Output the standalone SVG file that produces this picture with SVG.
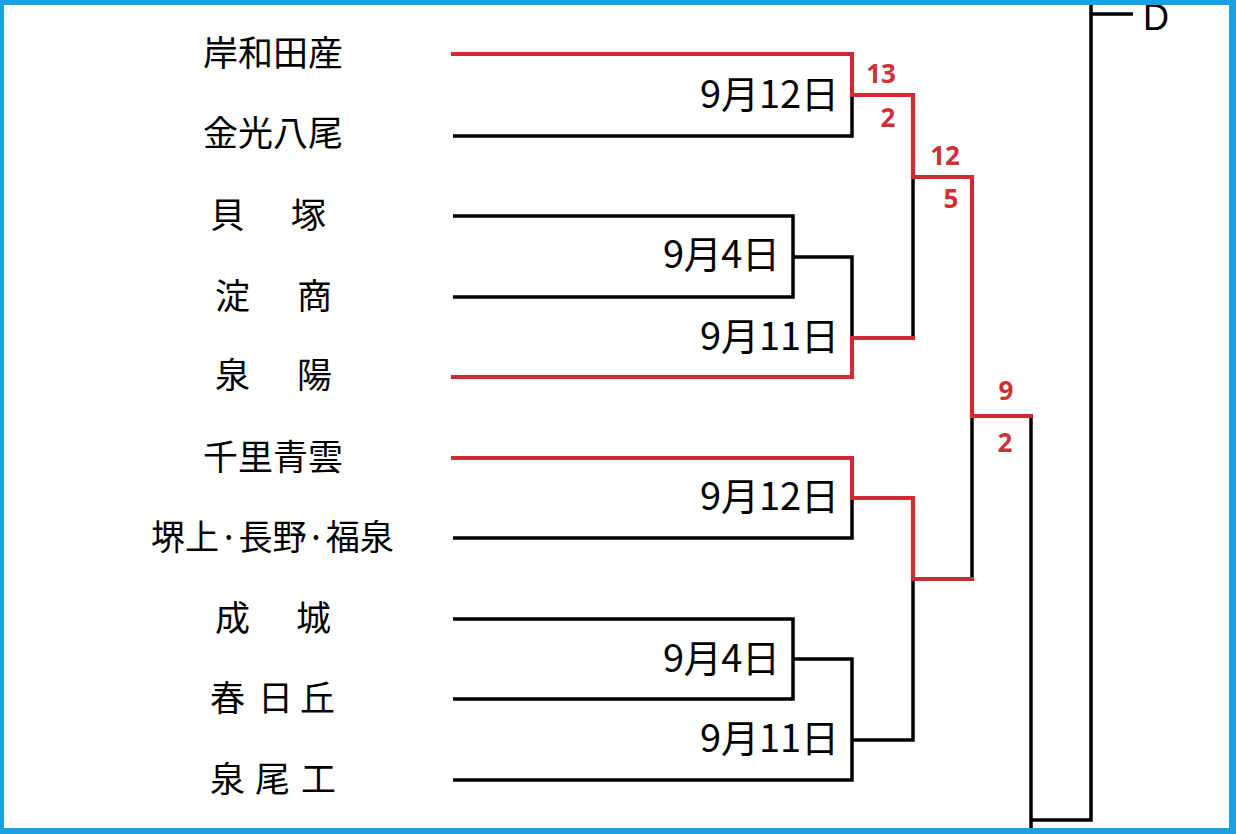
<svg xmlns="http://www.w3.org/2000/svg" width="1236" height="834" viewBox="0 0 1236 834">
<style>
.team{font-family:"Noto Sans CJK JP","Noto Sans CJK SC",sans-serif;font-size:35px;fill:#000}
.date{font-family:"Noto Sans CJK JP","Noto Sans CJK SC",sans-serif;font-size:38px;fill:#000;text-anchor:end}
.score{font-family:"Noto Sans","Liberation Sans",sans-serif;font-size:26px;font-weight:bold;fill:#cf3038;text-anchor:middle}
.bk{fill:none;stroke:#000;stroke-width:3.5}
.rd{fill:none;stroke:#d02a35;stroke-width:4.2;stroke-linecap:square}
</style>
<rect x="0" y="0" width="1236" height="834" fill="#fff"/>
<g id="connectors">
<g id="black-lines">
<path class="bk" d="M453 136 H852 V95"/>
<path class="bk" d="M453 216 H793 V297 H453"/>
<path class="bk" d="M793 257 H852 V338"/>
<path class="bk" d="M913 177 V338"/>
<path class="bk" d="M453 538 H852 V498"/>
<path class="bk" d="M453 619 H793 V699 H453"/>
<path class="bk" d="M793 659 H852 V780 H453"/>
<path class="bk" d="M852 740 H913 V579"/>
<path class="bk" d="M972 416 V579"/>
<path class="bk" d="M1031 416 V834"/>
<path class="bk" d="M1031 820 H1091 V5"/>
<path class="bk" d="M1091 14 H1133"/>
</g>
<g id="red-lines">
<path class="rd" d="M453 54 H852 V95 H913 V177 H972 V416 H1031"/>
<path class="rd" d="M453 377 H852 V338 H913"/>
<path class="rd" d="M453 458 H852 V498 H913 V579 H972"/>
</g>
</g>
<g id="team-1"><text class="team" x="203" y="66">岸和田産</text></g>
<g id="team-2"><text class="team" x="203" y="146">金光八尾</text></g>
<g id="team-3"><text class="team" x="210 250 291" y="228">貝　塚</text></g>
<g id="team-4"><text class="team" x="215 256 297" y="309">淀　商</text></g>
<g id="team-5"><text class="team" x="215 256 297" y="388">泉　陽</text></g>
<g id="team-6"><text class="team" x="203" y="470">千里青雲</text></g>
<g id="team-7"><text class="team" x="151" y="550" textLength="243" lengthAdjust="spacingAndGlyphs">堺上·長野·福泉</text></g>
<g id="team-8"><text class="team" x="215 256 296" y="631">成　城</text></g>
<g id="team-9"><text class="team" x="210 245 258 280 300" y="711">春 日 丘</text></g>
<g id="team-10"><text class="team" x="210 243 255 280 301" y="792">泉 尾 工</text></g>
<g id="dates">
<text class="date" x="839" y="108" textLength="139" lengthAdjust="spacing">9月12日</text>
<text class="date" x="780" y="268" textLength="117" lengthAdjust="spacing">9月4日</text>
<text class="date" x="839" y="350" textLength="139" lengthAdjust="spacing">9月11日</text>
<text class="date" x="839" y="510" textLength="139" lengthAdjust="spacing">9月12日</text>
<text class="date" x="780" y="672" textLength="117" lengthAdjust="spacing">9月4日</text>
<text class="date" x="839" y="752" textLength="139" lengthAdjust="spacing">9月11日</text>
</g>
<g id="scores">
<text class="score" x="881" y="83">13</text>
<text class="score" x="888" y="127">2</text>
<text class="score" x="945" y="165">12</text>
<text class="score" x="951" y="208">5</text>
<text class="score" x="1006" y="400">9</text>
<text class="score" x="1005" y="452">2</text>
</g>
<g id="final-label"><text x="1143" y="30" font-family="Liberation Sans, Arial, sans-serif" font-size="36" fill="#000">D</text></g>
<g id="frame" fill="#1ba1e2">
<rect x="0" y="0" width="1236" height="5"/>
<rect x="0" y="0" width="4" height="834"/>
<rect x="1229" y="0" width="7" height="834"/>
<rect x="0" y="828" width="1236" height="6"/>
</g>
</svg>
